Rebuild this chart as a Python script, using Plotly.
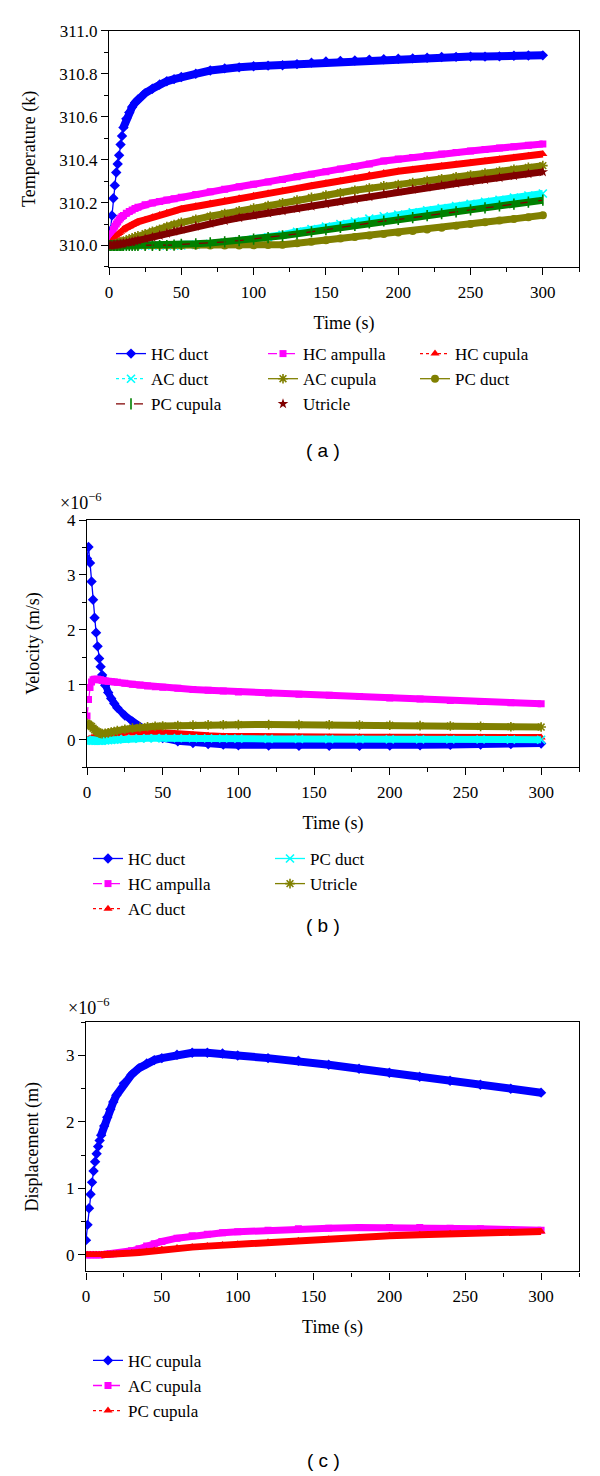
import plotly.graph_objects as go

# ---------------- data ----------------
# Panel (a): temperature (K) vs time (s)
time_a = [0, 1, 2, 3, 4, 5, 6, 7, 8, 9, 10, 12, 14, 16, 18, 20, 25, 30, 35, 40, 45, 50,
          60, 70, 80, 90, 100, 110, 120, 130, 140, 150, 160, 170, 180, 190, 200, 210,
          220, 230, 240, 250, 260, 270, 280, 290, 300]
hc_duct_T = [310.00, 310.07, 310.14, 310.22, 310.28, 310.34, 310.38, 310.42, 310.47, 310.51, 310.55,
             310.59, 310.62, 310.645, 310.665, 310.68,
             310.71, 310.73, 310.75, 310.765, 310.775, 310.785,
             310.80, 310.815, 310.825, 310.83, 310.835, 310.838, 310.84, 310.845, 310.852, 310.857,
             310.86, 310.862, 310.866, 310.868, 310.87, 310.872, 310.875, 310.878, 310.879, 310.88,
             310.88, 310.881, 310.884, 310.885, 310.886]
hc_ampulla_T = [310.0, 310.03, 310.055, 310.075, 310.09, 310.10, 310.11, 310.12, 310.128, 310.135, 310.14,
                310.15, 310.158, 310.165, 310.172, 310.178,
                310.19, 310.198, 310.205, 310.212, 310.218, 310.225,
                310.237, 310.25, 310.262, 310.274, 310.285, 310.296, 310.308, 310.32, 310.332, 310.344,
                310.356, 310.368, 310.38, 310.394, 310.403, 310.41, 310.418, 310.426, 310.433, 310.44,
                310.447, 310.454, 310.46, 310.467, 310.473]
hc_cupula_T = [310.0, 310.01, 310.02, 310.03, 310.038, 310.045, 310.052, 310.058, 310.064, 310.07, 310.075,
               310.083, 310.09, 310.097, 310.103, 310.11,
               310.12, 310.132, 310.142, 310.152, 310.16, 310.17,
               310.183, 310.196, 310.208, 310.22, 310.232, 310.243, 310.255, 310.266, 310.278, 310.29,
               310.302, 310.315, 310.328, 310.338, 310.346, 310.354, 310.362, 310.37, 310.378, 310.386,
               310.394, 310.402, 310.41, 310.418, 310.426]
ac_duct_T = [310.0] * 22 + [310.003, 310.008, 310.014, 310.021, 310.028, 310.038, 310.05, 310.064,
                            310.076, 310.088, 310.10, 310.112, 310.125, 310.136, 310.144, 310.154,
                            310.164, 310.174, 310.184, 310.194, 310.204, 310.213, 310.223, 310.233,
                            310.242]
ac_cupula_T = [310.0, 310.0, 310.002, 310.004, 310.006, 310.008, 310.01, 310.012, 310.015, 310.017, 310.02,
               310.025, 310.03, 310.035, 310.04, 310.045,
               310.055, 310.066, 310.076, 310.088, 310.098, 310.108,
               310.122, 310.136, 310.149, 310.162, 310.174, 310.186, 310.199, 310.212, 310.224, 310.235,
               310.246, 310.257, 310.268, 310.278, 310.284, 310.293, 310.302, 310.311, 310.32, 310.328,
               310.337, 310.346, 310.355, 310.364, 310.372]
pc_duct_T = [310.0] * 22 + [310.0, 310.0, 310.0, 310.0, 310.001, 310.002, 310.004, 310.01, 310.017,
                            310.025, 310.032, 310.04, 310.047, 310.053, 310.06, 310.067, 310.075,
                            310.083, 310.092, 310.10, 310.108, 310.116, 310.124, 310.132, 310.141]
pc_cupula_T = [310.0] * 20 + [310.002, 310.005,
                              310.008, 310.012, 310.017, 310.023, 310.03, 310.037, 310.045, 310.054,
                              310.064, 310.074, 310.084, 310.094, 310.105, 310.114, 310.121, 310.13,
                              310.139, 310.148, 310.157, 310.166, 310.175, 310.184, 310.193, 310.202,
                              310.211]
utricle_T = [310.0, 310.0, 310.001, 310.002, 310.003, 310.004, 310.005, 310.006, 310.007, 310.008, 310.01,
             310.012, 310.015, 310.018, 310.021, 310.024,
             310.031, 310.039, 310.047, 310.056, 310.066, 310.076,
             310.09, 310.103, 310.116, 310.129, 310.141, 310.151, 310.161, 310.172, 310.183, 310.194,
             310.205, 310.216, 310.227, 310.24, 310.253, 310.262, 310.271, 310.28, 310.289, 310.298,
             310.307, 310.316, 310.325, 310.334, 310.343]

# Panel (b): velocity (x1e-6 m/s) vs time (s)
time_b = [0, 1, 2, 3, 4, 5, 6, 7, 8, 9, 10, 12, 14, 16, 18, 20, 25, 30, 35, 40, 45, 50,
          60, 70, 80, 90, 100, 120, 140, 160, 180, 200, 220, 240, 260, 280, 300]
hc_duct_v = [3.30, 3.51, 3.22, 2.88, 2.55, 2.22, 1.95, 1.70, 1.48, 1.33, 1.18,
             0.99, 0.86, 0.75, 0.66, 0.58,
             0.44, 0.33, 0.23, 0.15, 0.08, 0.03,
             -0.03, -0.06, -0.08, -0.09, -0.10,
             -0.105, -0.11, -0.11, -0.11, -0.105, -0.10, -0.095, -0.09, -0.08, -0.07]
hc_ampulla_v = [0.43, 0.73, 0.95, 1.05, 1.09, 1.10, 1.10, 1.10, 1.09, 1.09, 1.08,
                1.07, 1.065, 1.06, 1.05, 1.045,
                1.03, 1.01, 0.995, 0.98, 0.965, 0.955,
                0.935, 0.915, 0.90, 0.885, 0.87,
                0.85, 0.83, 0.81, 0.785, 0.76, 0.74, 0.715, 0.695, 0.675, 0.655]
ac_duct_v = [0.0, 0.01, 0.02, 0.03, 0.04, 0.05, 0.06, 0.065, 0.07, 0.075, 0.08,
             0.09, 0.10, 0.11, 0.12, 0.125,
             0.135, 0.145, 0.15, 0.15, 0.14, 0.125,
             0.10, 0.085, 0.07, 0.06, 0.055,
             0.05, 0.048, 0.046, 0.045, 0.044, 0.043, 0.042, 0.041, 0.04, 0.04]
pc_duct_v = [0.0, -0.01, -0.015, -0.02, -0.02, -0.02, -0.02, -0.02, -0.02, -0.02, -0.02,
             -0.015, -0.01, -0.005, 0.0, 0.005,
             0.012, 0.018, 0.022, 0.025, 0.027, 0.028,
             0.028, 0.027, 0.025, 0.022, 0.02,
             0.015, 0.012, 0.01, 0.008, 0.006, 0.005, 0.004, 0.003, 0.002, 0.0]
utricle_v = [0.30, 0.28, 0.26, 0.24, 0.21, 0.18, 0.16, 0.14, 0.12, 0.115, 0.11,
             0.115, 0.125, 0.14, 0.15, 0.165,
             0.19, 0.21, 0.225, 0.235, 0.245, 0.25,
             0.26, 0.265, 0.27, 0.272, 0.274,
             0.275, 0.274, 0.272, 0.268, 0.262, 0.256, 0.25, 0.243, 0.236, 0.23]

# Panel (c): displacement (x1e-6 m) vs time (s)
time_c = list(time_b)
hc_cupula_d = [0.22, 0.45, 0.70, 0.91, 1.09, 1.26, 1.40, 1.52, 1.63, 1.72, 1.80,
               1.94, 2.07, 2.19, 2.30, 2.40,
               2.58, 2.71, 2.81, 2.88, 2.93, 2.96,
               3.01, 3.04, 3.04, 3.03, 3.00,
               2.96, 2.92, 2.86, 2.80, 2.74, 2.68, 2.62, 2.56, 2.50, 2.44]
ac_cupula_d = [0.0] * 11 + [0.005, 0.008, 0.012, 0.016, 0.02,
                            0.035, 0.06, 0.09, 0.13, 0.165, 0.20,
                            0.25, 0.285, 0.31, 0.33, 0.345,
                            0.37, 0.39, 0.40, 0.41, 0.41, 0.41, 0.40, 0.39, 0.38, 0.37]
pc_cupula_d = [0.0] * 11 + [0.0, 0.002, 0.004, 0.006, 0.008,
                            0.015, 0.025, 0.035, 0.05, 0.065, 0.08,
                            0.10, 0.115, 0.13, 0.145, 0.16,
                            0.19, 0.21, 0.235, 0.26, 0.285, 0.30, 0.315, 0.325, 0.34, 0.35]

x_ticks = [0, 50, 100, 150, 200, 250, 300]
panel_labels = ["( a )", "( b )", "( c )"]
y_titles = ["Temperature (k)", "Velocity (m/s)", "Displacement (m)"]
x_title = "Time (s)"

# ---------------- styling ----------------
SERIF = "Liberation Serif"
SANS = "Liberation Sans"
BLUE, MAGENTA, RED, CYAN = "#0000FF", "#FF00FF", "#FF0000", "#00FFFF"
OLIVE, DARKRED, GREEN = "#808000", "#800000", "#008000"

W, H = 600, 1476
ML, MR = 70, 21
PW = W - ML - MR
OFF = 8  # page margin of the html body


def fx(px):
    return (px - OFF - ML) / PW


def fy(py):
    return 1 - (py - OFF) / H


def fyd(py):
    # plot-area placement, corrected for the offset observed in the rendering
    return fy((py - 9.2) / 0.9935)


fig = go.Figure()


def add(t, y, name, color, symbol, dash, xa, ya, legend, rank=1000,
        mode="lines+markers", mcolor=None, open_sym=False, msize=8, bandw=7, i0=10):
    mc = mcolor or color
    # thick band formed by the densely packed markers in the original
    fig.add_trace(go.Scatter(x=t[i0:], y=y[i0:], mode="lines",
                             line=dict(color=mc, width=bandw),
                             xaxis=xa, yaxis=ya, showlegend=False, hoverinfo="skip"))
    marker = dict(symbol=symbol, size=msize, color=mc)
    marker["line"] = dict(color=mc, width=1.6) if open_sym else dict(width=0)
    fig.add_trace(go.Scatter(x=t, y=y, name=name, mode=mode,
                             line=dict(color=color, width=1.3, dash=dash),
                             marker=marker, xaxis=xa, yaxis=ya,
                             legend=legend, legendrank=rank))


# Panel (a)
add(time_a, hc_duct_T, "HC duct", BLUE, "diamond", "solid", "x", "y", "legend", bandw=8)
add(time_a, hc_ampulla_T, "HC ampulla", MAGENTA, "square", "dash", "x", "y", "legend", msize=7)
add(time_a, hc_cupula_T, "HC cupula", RED, "triangle-up", "dot", "x", "y", "legend")
add(time_a, ac_duct_T, "AC duct", CYAN, "x-thin-open", "dot", "x", "y", "legend", open_sym=True)
add(time_a, ac_cupula_T, "AC cupula", OLIVE, "asterisk-open", "solid", "x", "y", "legend", open_sym=True)
add(time_a, pc_duct_T, "PC duct", OLIVE, "circle", "solid", "x", "y", "legend")
add(time_a, pc_cupula_T, "PC cupula", DARKRED, "line-ns-open", "dash", "x", "y", "legend",
    mcolor=GREEN, open_sym=True)
add(time_a, utricle_T, "Utricle", DARKRED, "star", "solid", "x", "y", "legend", mode="markers")

# Panel (b)
add(time_b, hc_duct_v, "HC duct", BLUE, "diamond", "solid", "x2", "y2", "legend2", rank=1)
add(time_b, hc_ampulla_v, "HC ampulla", MAGENTA, "square", "dash", "x2", "y2", "legend2", rank=3, msize=7)
add(time_b, ac_duct_v, "AC duct", RED, "triangle-up", "dot", "x2", "y2", "legend2", rank=5)
add(time_b, pc_duct_v, "PC duct", CYAN, "x-thin-open", "solid", "x2", "y2", "legend2", rank=2, open_sym=True)
add(time_b, utricle_v, "Utricle", OLIVE, "asterisk-open", "solid", "x2", "y2", "legend2", rank=4, open_sym=True)

# Panel (c)
add(time_c, hc_cupula_d, "HC cupula", BLUE, "diamond", "solid", "x3", "y3", "legend3", bandw=8)
add(time_c, ac_cupula_d, "AC cupula", MAGENTA, "square", "dash", "x3", "y3", "legend3", msize=7)
add(time_c, pc_cupula_d, "PC cupula", RED, "triangle-up", "dot", "x3", "y3", "legend3")

tickfont = dict(family=SERIF, size=17, color="black")
titlefont = dict(family=SERIF, size=18, color="black")


def xaxis(dom, anchor):
    return dict(domain=dom, anchor=anchor, range=[0, 325], tickvals=x_ticks,
                showline=True, linecolor="black", linewidth=1.3, mirror=True,
                ticks="outside", ticklen=7, tickwidth=1.3, tickcolor="black",
                ticklabelstandoff=2,
                minor=dict(ticks="outside", ticklen=4, tickwidth=1.3, tickcolor="black", dtick=25, tick0=0),
                showgrid=False, zeroline=False, tickfont=tickfont,
                title=dict(text=x_title, font=titlefont, standoff=15))


def yaxis(dom, anchor, rng, dtick, tick0, minor, title, standoff, fmt=None):
    d = dict(domain=dom, anchor=anchor, range=rng, dtick=dtick, tick0=tick0,
             showline=True, linecolor="black", linewidth=1.3, mirror=True,
             ticks="outside", ticklen=7, tickwidth=1.3, tickcolor="black",
             minor=dict(ticks="outside", ticklen=4, tickwidth=1.3, tickcolor="black", dtick=minor, tick0=tick0),
             showgrid=False, zeroline=False, tickfont=tickfont,
             title=dict(text=title, font=titlefont, standoff=standoff))
    if fmt:
        d["tickformat"] = fmt
    return d


legfont = dict(family=SERIF, size=17, color="black")
labfont = dict(family=SANS, size=19, color="black")
expfont = dict(family=SERIF, size=18, color="black")

fig.update_layout(
    width=W, height=H,
    margin=dict(l=ML, r=MR, t=0, b=0),
    paper_bgcolor="white", plot_bgcolor="white",
    xaxis=xaxis([fx(109), fx(579)], "y"),
    yaxis=yaxis([fyd(267), fyd(31)], "x", [309.9, 311.0], 0.2, 310.0, 0.1, y_titles[0], 18, ".1f"),
    xaxis2=xaxis([fx(87), fx(579)], "y2"),
    yaxis2=yaxis([fyd(767), fyd(520)], "x2", [-0.5, 4.0], 1, 0, 0.5, y_titles[1], 22),
    xaxis3=xaxis([fx(86), fx(579)], "y3"),
    yaxis3=yaxis([fyd(1271), fyd(1022)], "x3", [-0.25, 3.5], 1, 0, 0.5, y_titles[2], 22),
    legend=dict(x=fx(111), y=fy(329), xanchor="left", yanchor="top", orientation="h",
                entrywidth=107, entrywidthmode="pixels", font=legfont,
                bgcolor="rgba(0,0,0,0)", traceorder="normal"),
    legend2=dict(x=fx(88), y=fy(837), xanchor="left", yanchor="top", orientation="h",
                 entrywidth=137, entrywidthmode="pixels", font=legfont,
                 bgcolor="rgba(0,0,0,0)", traceorder="normal"),
    legend3=dict(x=fx(88), y=fy(1342), xanchor="left", yanchor="top", orientation="v",
                 font=legfont, bgcolor="rgba(0,0,0,0)", traceorder="normal"),
    showlegend=True,
    annotations=[
        dict(text=panel_labels[0], x=fx(323), y=fy(444), xref="paper", yref="paper",
             xanchor="center", yanchor="middle", showarrow=False, font=labfont),
        dict(text=panel_labels[1], x=fx(323), y=fy(922), xref="paper", yref="paper",
             xanchor="center", yanchor="middle", showarrow=False, font=labfont),
        dict(text=panel_labels[2], x=fx(323), y=fy(1460), xref="paper", yref="paper",
             xanchor="center", yanchor="middle", showarrow=False, font=labfont),
        dict(text="×10<sup>−6</sup>", x=fx(58), y=fy(495), xref="paper", yref="paper",
             xanchor="left", yanchor="middle", showarrow=False, font=expfont),
        dict(text="×10<sup>−6</sup>", x=fx(66), y=fy(1004), xref="paper", yref="paper",
             xanchor="left", yanchor="middle", showarrow=False, font=expfont),
    ],
)

fig.write_html("out.html")
